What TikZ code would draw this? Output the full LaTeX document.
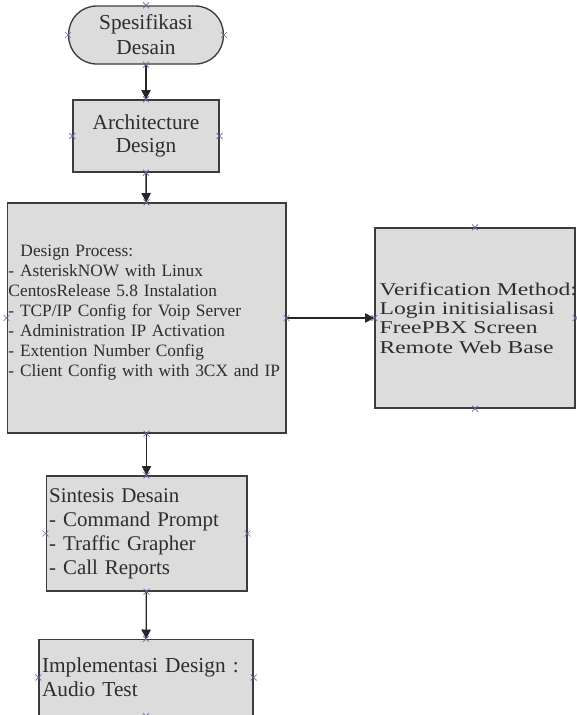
\documentclass[tikz,border=0pt]{standalone}
\usepackage{fontspec}
\setmainfont{Liberation Serif}
\newfontfamily\widefont[FakeStretch=1.31]{Liberation Serif}
\usetikzlibrary{arrows.meta}
\definecolor{boxfill}{RGB}{220,220,220}
\definecolor{boxline}{RGB}{60,60,60}
\definecolor{textgray}{RGB}{45,45,45}
\definecolor{markblue}{RGB}{105,105,165}

\begin{document}
\begin{tikzpicture}[x=0.75pt,y=-0.75pt]
	\tikzstyle{block}=[rectangle,draw=boxline,line width=1pt,fill=boxfill,text=textgray,inner sep=2pt]
	\tikzstyle{terminal}=[block,rounded corners=21pt,align=center]
	\tikzstyle{listbox}=[block,align=left]
	\tikzstyle{flow}=[draw,line width=1pt,black!85,-{Triangle[length=7pt,width=7pt]}]
	\tikzstyle{pin}=[draw=markblue,line width=0.5pt]
	\useasboundingbox (0,0) rectangle (577,715);
	\clip (0,0) rectangle (577,715);
	\begin{scope}
		\node [terminal,minimum width=116pt,minimum height=43.5pt,font=\fontsize{16}{18.75}\selectfont] (spec) at (146,35) {Spesifikasi\\Desain};
		\node [block,align=center,minimum width=109.5pt,minimum height=54pt,font=\fontsize{16}{17.5}\selectfont] (arch) at (146,136) {Architecture\\Design};
		\node [listbox,inner xsep=1pt,text width=207pt,minimum height=172.5pt,font=\fontsize{13}{15}\selectfont] (proc) at (146.5,318) {\hspace*{9pt}Design Process:\\- AsteriskNOW with Linux\\CentosRelease 5.8 Instalation\\- TCP/IP Config for Voip Server\\- Administration IP Activation\\- Extention Number Config\\- Client Config with with 3CX and IP\\[-4.5pt]\mbox{}};
		\node [listbox,inner xsep=3.5pt,text width=143pt,minimum height=135pt,font=\widefont\fontsize{13.5}{14.5}\selectfont] (verif) at (475,318) {Verification~Method:\\Login~initisialisasi\\FreePBX~Screen\\Remote~Web~Base};
		\node [listbox,inner xsep=2.25pt,text width=146pt,minimum height=86.25pt,font=\fontsize{15.7}{18}\selectfont] (sint) at (146.5,533.5) {Sintesis Desain\\- Command Prompt\\- Traffic Grapher\\- Call Reports};
		\node [listbox,inner xsep=2.25pt,text width=156pt,minimum height=57pt,font=\fontsize{16}{18}\selectfont] (impl) at (146,677.5) {Implementasi Design :\\Audio Test};
		\path[flow] (spec) edge (arch);
		\path[flow] (arch) edge (proc);
		\path[flow] (proc) edge (verif);
		\path[flow] (proc) edge (sint);
		\path[flow] (sint) edge (impl);
		% connection points
		\foreach \b in {spec,arch,proc,verif,sint,impl}
			\foreach \a in {north,south,east,west}
				\draw[pin] ([shift={(-3,-3)}]\b.\a) -- ([shift={(3,3)}]\b.\a) ([shift={(-3,3)}]\b.\a) -- ([shift={(3,-3)}]\b.\a);
	\end{scope}
\end{tikzpicture}
\end{document}
